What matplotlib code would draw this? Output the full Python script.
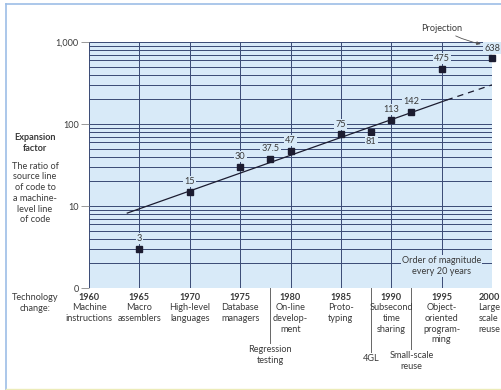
import matplotlib
matplotlib.use("Agg")
import matplotlib.pyplot as plt
from matplotlib.lines import Line2D

plt.rcParams['font.family'] = ['Lato', 'DejaVu Sans']

# ---- data ----
years = [1965, 1970, 1975, 1978, 1980, 1985, 1988, 1990, 1992, 1995, 2000]
values = [3, 15, 30, 37.5, 47, 75, 81, 113, 142, 475, 638]
value_labels = ['3', '15', '30', '37.5', '47', '75', '81', '113', '142', '475', '638']
label_below = [False, False, False, False, False, False, True, False, False, False, False]

trend_years = [1963.8, 1995.5]
trend_values = [8.2, 196]
proj_years = [1995.5, 2000]
proj_values = [196, 300]

tick_years = [1960, 1965, 1970, 1975, 1980, 1985, 1990, 1995, 2000]
tick_desc = ['Machine\ninstructions', 'Macro\nassemblers', 'High-level\nlanguages',
             'Database\nmanagers', 'On-line\ndevelop-\nment', 'Proto-\ntyping',
             'Subsecond\ntime\nsharing', 'Object-\noriented\nprogram-\nming',
             'Large\nscale\nreuse']
extra_years = [1978, 1988, 1992]
extra_desc = ['Regression\ntesting', '4GL', 'Small-scale\nreuse']

y_ticks = [1, 10, 100, 1000]
y_ticklabels = ['0', '10', '100', '1,000']

# ---- style ----
BG = '#d8eaf8'
GRID = '#3a4a74'
TXT = '#3a3a3a'
MARK = '#1c1c30'
FS = 6.6
PX = 0.72  # points per pixel at dpi 100

W, H = 501, 390
fig = plt.figure(figsize=(W / 100, H / 100), dpi=100)
fig.patch.set_facecolor('white')
L, R, T, B = 89, 492, 42, 288
ax = fig.add_axes([L / W, 1 - B / H, (R - L) / W, (B - T) / H])
ax.set_facecolor(BG)
ax.set_yscale('log')
ax.set_xlim(1960, 2000)
ax.set_ylim(1, 1000)

ax.set_xticks(tick_years)
ax.set_xticklabels([])
ax.tick_params(axis='x', length=0)
ax.set_yticks(y_ticks)
ax.set_yticklabels(y_ticklabels, fontsize=FS, color=TXT)
ax.tick_params(axis='y', which='major', length=6, width=0.6, color='#888888', pad=1.5)
ax.tick_params(axis='y', which='minor', length=0)
ax.set_yticks([m * d for d in (1, 10, 100) for m in range(2, 10)], minor=True)
ax.yaxis.set_minor_formatter(plt.NullFormatter())
ax.grid(True, which='major', axis='x', color=GRID, lw=0.7)
ax.grid(True, which='both', axis='y', color=GRID, lw=0.7)
ax.set_axisbelow(True)
for s in ax.spines.values():
    s.set_visible(False)

# trend line
ax.plot(trend_years, trend_values, color=MARK, lw=0.9, zorder=3)
ax.plot(proj_years, proj_values, color=MARK, lw=0.9, ls=(0, (5, 4)), zorder=3)

# points
ax.plot(years, values, ls='none', marker='s', ms=3.8, color=MARK, zorder=4, clip_on=False)
for x, v, lab, below in zip(years, values, value_labels, label_below):
    ax.annotate(lab, (x, v), xytext=(0, -10 * PX if below else 10 * PX),
                textcoords='offset points', ha='center', va='center',
                fontsize=FS, color=TXT, zorder=5,
                bbox=dict(boxstyle='square,pad=0.12', fc=BG, ec='none'))

# projection annotation
ax.annotate('Projection', xy=(1998.9, 946), xytext=(1995.0, 1480),
            ha='center', va='center', fontsize=FS, color=TXT,
            annotation_clip=False,
            arrowprops=dict(arrowstyle='-|>,head_length=0.35,head_width=0.15',
                            color='#555555', lw=0.6, shrinkA=1, shrinkB=0,
                            connectionstyle='arc3,rad=0.1'))

ax.text(1995.0, 1.87, 'Order of magnitude\nevery 20 years', ha='center', va='center',
        fontsize=FS, color=TXT, linespacing=1.3, zorder=5,
        bbox=dict(boxstyle='square,pad=0.12', fc=BG, ec='none'))

# x tick labels
for yr, desc in zip(tick_years, tick_desc):
    last = yr == tick_years[-1]
    kw = dict(xycoords=('data', 'axes fraction'), textcoords='offset points',
              ha='right' if last else 'center', color=TXT, fontsize=FS,
              annotation_clip=False)
    dx = 8 * PX if last else 0
    ax.annotate(str(yr), (yr, 0), xytext=(dx, -10 * PX), va='center',
                fontweight='bold', **kw)
    ax.annotate(desc, (yr, 0), xytext=(dx, -15 * PX), va='top',
                linespacing=1.25, multialignment='center', **kw)

line_len = [55, 64, 61]
for yr, desc, ln in zip(extra_years, extra_desc, line_len):
    ax.add_line(Line2D([yr, yr], [0, -ln / (B - T)], transform=ax.get_xaxis_transform(),
                       color='#666666', lw=0.7, clip_on=False))
    ax.annotate(desc, (yr, 0), xycoords=('data', 'axes fraction'),
                xytext=(0, -(ln + 2) * PX), textcoords='offset points',
                ha='center', va='top', fontsize=FS, color=TXT,
                linespacing=1.25, annotation_clip=False)

# left texts
fig.text(35 / W, 1 - 143 / H, 'Expansion\nfactor', ha='center', va='center',
         fontsize=FS, fontweight='bold', color=TXT, linespacing=1.25)
fig.text(35 / W, 1 - 193 / H, 'The ratio of\nsource line\nof code to\na machine-\nlevel line\nof code',
         ha='center', va='center', fontsize=FS, color=TXT, linespacing=1.25)
fig.text(35 / W, 1 - 303 / H, 'Technology\nchange:', ha='center', va='center',
         fontsize=FS, color=TXT, linespacing=1.25)

# frame
fig.add_artist(Line2D([6 / W, 6 / W], [0, 1 - 4 / H], color='#9dbde6', lw=1.2))
fig.add_artist(Line2D([6 / W, 1], [1 - 4 / H, 1 - 4 / H], color='#9dbde6', lw=1.2))
fig.add_artist(Line2D([6 / W, 1], [1 / H, 1 / H], color='#ecebb8', lw=1.0))

fig.savefig('out.png', dpi=100)
